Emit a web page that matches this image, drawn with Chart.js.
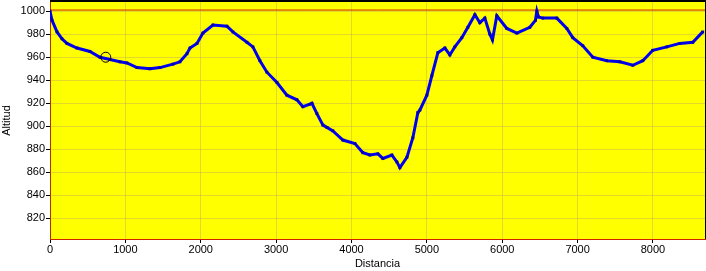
<!DOCTYPE html>
<html lang="es">
<head>
<meta charset="UTF-8">
<title>Perfil</title>
<style>
  html, body { margin: 0; padding: 0; background: #ffffff; }
  #perfil { display: block; }
</style>
</head>
<body>
<canvas id="perfil" width="706" height="271"></canvas>

<script src="https://cdn.jsdelivr.net/npm/chart.js"></script>
<script>
    const distancia = [0, 27, 93, 159, 225, 358, 530, 663, 796, 928, 1021, 1154, 1326, 1459, 1631, 1724,
        1817, 1857, 1950, 2029, 2162, 2347, 2427, 2613, 2692, 2785, 2878, 3011, 3143, 3276, 3355, 3440,
        3475, 3541, 3621, 3674, 3753, 3886, 4045, 4151, 4244, 4350, 4416, 4536, 4602, 4642, 4735, 4814,
        4881, 4907, 5000, 5066, 5146, 5239, 5305, 5371, 5464, 5544, 5637, 5703, 5769, 5836, 5870, 5928,
        6061, 6194, 6366, 6440, 6459, 6480, 6538, 6724, 6857, 6936, 7069, 7202, 7387, 7560, 7732, 7865,
        7997, 8183, 8355, 8528, 8660];
    const altitud = [1000, 992, 982, 976, 972, 968, 965, 960, 958, 956, 955, 951, 950, 951, 954, 956,
        963, 968, 972, 981, 988, 987, 982, 973, 969, 957, 947, 938, 927, 923, 917, 919,
        920, 911, 901, 899, 896, 888, 885, 877, 875, 876, 872, 875, 869, 864, 873, 890,
        912, 914, 927, 944, 964, 968, 962, 969, 977, 986, 997, 990, 994, 980, 975, 996,
        985, 981, 986, 992, 1000, 995, 994, 994, 985, 977, 970, 960, 957, 956, 953, 957,
        966, 969, 972, 973, 982];

    // marca circular y linea de referencia
    const marcaDist = [740];
    const marcaAlt = [960];
    const lineaRef = 1001;

    const xMin = 0, xMax = 8690;
    const yMin = 802, yMax = 1008;
    const xTicks = [0, 1000, 2000, 3000, 4000, 5000, 6000, 7000, 8000];
    const yTicks = [820, 840, 860, 880, 900, 920, 940, 960, 980, 1000];

    const fondo = {
        id: 'fondo',
        beforeDraw(chart) {
            const { ctx, chartArea: a } = chart;
            ctx.save();
            ctx.fillStyle = '#ffff00';
            ctx.fillRect(a.left, a.top, a.right - a.left, a.bottom - a.top);
            ctx.restore();
        },
        afterDraw(chart) {
            // marco negro arriba y a la derecha
            const { ctx, chartArea: a } = chart;
            ctx.save();
            ctx.strokeStyle = '#000000';
            ctx.lineWidth = 2;
            ctx.beginPath();
            ctx.moveTo(a.left, 1);
            ctx.lineTo(a.right + 1, 1);
            ctx.lineTo(a.right + 1, a.bottom);
            ctx.stroke();
            ctx.restore();
        }
    };

    const gridOpts = {
        color: 'rgba(190,170,90,0.45)',
        borderDash: [3, 3],
        tickColor: '#000000',
        tickLength: 4,
        tickBorderDash: []
    };

    const ctx = document.getElementById('perfil').getContext('2d');
    new Chart(ctx, {
        type: 'line',
        data: {
            datasets: [{
                label: 'Altitud',
                data: distancia.map((d, i) => ({ x: d, y: altitud[i] })),
                borderColor: '#0000f0',
                backgroundColor: '#0000b0',
                borderWidth: 3,
                pointStyle: 'rect',
                pointRadius: 2,
                pointBorderWidth: 0,
                tension: 0,
                order: 2
            }, {
                label: 'Ref',
                data: [{ x: xMin, y: lineaRef }, { x: xMax, y: lineaRef }],
                borderColor: '#d02000',
                borderWidth: 1,
                pointRadius: 0,
                order: 3
            }, {
                label: 'Marca',
                data: marcaDist.map((d, i) => ({ x: d, y: marcaAlt[i] })),
                showLine: false,
                pointStyle: 'circle',
                pointRadius: 5,
                pointBorderWidth: 1,
                borderColor: '#000000',
                backgroundColor: 'rgba(0,0,0,0)',
                order: 1
            }]
        },
        options: {
            responsive: false,
            animation: false,
            layout: { autoPadding: false, padding: { top: 2, right: 1, left: 0, bottom: 0 } },
            plugins: {
                legend: { display: false },
                tooltip: { enabled: false }
            },
            scales: {
                x: {
                    type: 'linear',
                    min: xMin,
                    max: xMax,
                    afterBuildTicks(scale) { scale.ticks = xTicks.map(v => ({ value: v })); },
                    afterFit(scale) {
                        scale.height = 32;
                        scale.paddingLeft = 0;
                        scale.paddingRight = 0;
                    },
                    ticks: {
                        color: '#000000',
                        padding: 0,
                        maxRotation: 0,
                        callback: v => String(v),
                        font: { family: 'Liberation Sans', size: 11 }
                    },
                    grid: gridOpts,
                    border: { color: '#d02000', width: 1 },
                    title: {
                        display: true,
                        text: 'Distancia',
                        color: '#000000',
                        padding: 0,
                        font: { family: 'Liberation Sans', size: 11 }
                    }
                },
                y: {
                    type: 'linear',
                    min: yMin,
                    max: yMax,
                    afterBuildTicks(scale) { scale.ticks = yTicks.map(v => ({ value: v })); },
                    afterFit(scale) {
                        scale.width = 50;
                        scale.paddingTop = 0;
                        scale.paddingBottom = 0;
                    },
                    ticks: {
                        color: '#000000',
                        padding: 1,
                        callback: v => String(v),
                        font: { family: 'Liberation Sans', size: 11 }
                    },
                    grid: gridOpts,
                    border: { color: '#b03000', width: 1 },
                    title: {
                        display: true,
                        text: 'Altitud',
                        color: '#000000',
                        padding: 0,
                        font: { family: 'Liberation Sans', size: 11 }
                    }
                }
            }
        },
        plugins: [fondo]
    });
</script>
</body>
</html>
